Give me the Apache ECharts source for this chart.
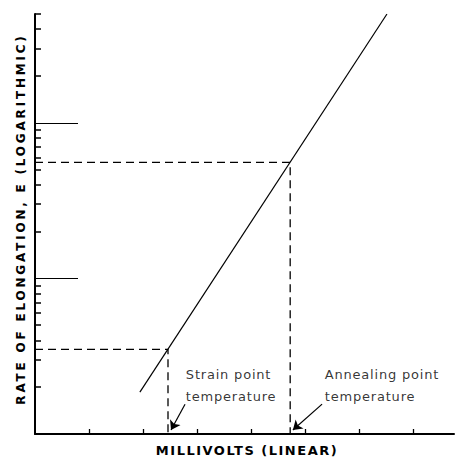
<!DOCTYPE html>
<html><head><meta charset="utf-8">
<script src="https://cdn.jsdelivr.net/npm/echarts@6/dist/echarts.min.js"></script>
<style>html,body{margin:0;padding:0;background:#fff}#c{width:458px;height:462px}</style>
</head><body><div id="c"></div>
<script>
// ---- data (values in axis units) ----
const curveX = [1.94, 6.51];
const curveY = [1.86, 500];
const strainPoint = [2.46, 3.5];
const annealPoint = [4.72, 55.7];
const xTicks = [1, 2, 3, 4, 5, 6, 7];
const yMajorTicks = [10, 100];
const yMinorTicks = [2, 3, 4, 5, 6, 7, 8, 9, 20, 30, 40, 50, 60, 70, 80, 90, 200, 300, 400, 500];
const strainArrow = [[2.775, 1.555], [2.516, 1.061]];
const annealArrow = [[5.31, 1.555], [4.77, 1.061]];
const strainLabelAt = [2.79, 2.05];
const annealLabelAt = [5.36, 2.05];
const strainText = 'Strain point\ntemperature';
const annealText = 'Annealing point\ntemperature';
const xName = 'MILLIVOLTS (LINEAR)';
const yName = 'RATE OF ELONGATION, E (LOGARITHMIC)';
const xMin = 0, xMax = 7.75, yMin = 1, yMax = 500;

const chart = echarts.init(document.getElementById('c'), null, {renderer: 'svg'});
const black = '#000';
const font = 'DejaVu Sans';
const logAxisBase = {
  type: 'log', logBase: 10, min: yMin, max: yMax,
  splitLine: {show: false}, axisLabel: {show: false}, minorTick: {show: false}
};
chart.setOption({
  animation: false,
  backgroundColor: '#fff',
  grid: {left: 35, right: 4, top: 14, bottom: 26, containLabel: false},
  xAxis: {
    type: 'value', min: xMin, max: xMax,
    axisLine: {show: true, onZero: false, lineStyle: {color: black, width: 2}},
    axisTick: {show: true, inside: true, length: 5, customValues: xTicks, lineStyle: {color: black, width: 1.3}},
    axisLabel: {show: false}, splitLine: {show: false},
    name: xName, nameLocation: 'middle', nameGap: 10,
    nameTextStyle: {color: black, fontFamily: font, fontSize: 13, fontWeight: 'bold', padding: [0, 0, 0, 5]}
  },
  yAxis: [
    Object.assign({}, logAxisBase, {
      position: 'left',
      axisLine: {show: true, onZero: false, lineStyle: {color: black, width: 2}},
      axisTick: {show: true, inside: true, length: 43, customValues: yMajorTicks, lineStyle: {color: black, width: 1.2}},
      name: yName, nameLocation: 'middle', nameGap: 8, nameRotate: 90,
      nameTextStyle: {color: black, fontFamily: font, fontSize: 12, fontWeight: 'bold', padding: [0, 0, 0, 10]}
    }),
    Object.assign({}, logAxisBase, {
      position: 'left', offset: 0,
      axisLine: {show: false},
      axisTick: {show: true, inside: true, length: 6, customValues: yMinorTicks, lineStyle: {color: black, width: 1.5}}
    })
  ],
  series: [
    {
      type: 'line', yAxisIndex: 0, symbol: 'none', silent: true,
      data: curveX.map((x, i) => [x, curveY[i]]),
      lineStyle: {color: black, width: 1.2}
    },
    {
      type: 'line', yAxisIndex: 0, symbol: 'none', silent: true,
      data: [[xMin, strainPoint[1]], strainPoint, [strainPoint[0], yMin]],
      lineStyle: {color: black, width: 1.3, type: [8, 5]}
    },
    {
      type: 'line', yAxisIndex: 0, symbol: 'none', silent: true,
      data: [[xMin, annealPoint[1]], annealPoint, [annealPoint[0], yMin]],
      lineStyle: {color: black, width: 1.3, type: [8, 5]}
    },
    {
      type: 'lines', coordinateSystem: 'cartesian2d', yAxisIndex: 0, silent: true,
      symbol: ['none', 'arrow'], symbolSize: [0, 9],
      data: [{coords: strainArrow}, {coords: annealArrow}],
      lineStyle: {color: black, width: 1.2, opacity: 1, curveness: 0}
    },
    {
      type: 'scatter', yAxisIndex: 0, symbolSize: 0, silent: true,
      data: [{value: strainLabelAt, name: strainText}, {value: annealLabelAt, name: annealText}],
      label: {show: true, formatter: '{b}', position: 'right', distance: 0,
              color: black, fontFamily: font, fontSize: 13, lineHeight: 22, align: 'left'}
    }
  ]
});

function spacing() {
  document.querySelectorAll('#c svg text').forEach(t => {
    const s = t.textContent || '';
    let ls = '0.8px';
    if (s.indexOf('RATE') >= 0) ls = '2.8px';
    else if (s.indexOf('MILLIVOLTS') >= 0) ls = '1.5px';
    t.style.letterSpacing = ls;
  });
}
spacing();
chart.on('finished', spacing);
setTimeout(spacing, 50);
</script>
</body></html>
